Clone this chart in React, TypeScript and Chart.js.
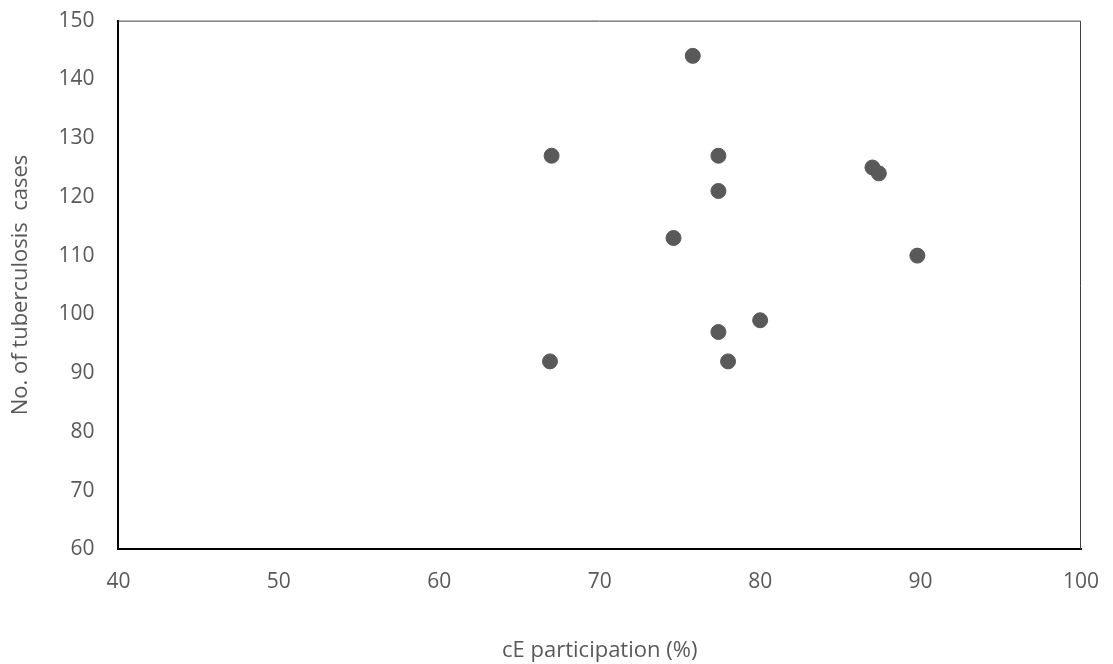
import { useEffect, useRef } from "react";
import { Chart, registerables } from "chart.js";

Chart.register(...registerables);

const participation = [75.8, 67.0, 77.4, 87.0, 87.4, 77.4, 74.6, 89.8, 80.0, 77.4, 66.9, 78.0];
const cases = [144, 127, 127, 125, 124, 121, 113, 110, 99, 97, 92, 92];

const GRAY = "#595959";

// thin frame on the top and right edges of the plot area
const framePlugin = {
  id: "frame",
  afterDraw(chart: Chart) {
    const { ctx, chartArea: a } = chart;
    ctx.save();
    ctx.strokeStyle = "#404040";
    ctx.lineWidth = 1;
    ctx.beginPath();
    ctx.moveTo(a.left, a.top + 0.5);
    ctx.lineTo(a.right - 0.5, a.top + 0.5);
    ctx.lineTo(a.right - 0.5, a.bottom);
    ctx.stroke();
    ctx.restore();
  },
};

export default function App() {
  const canvasRef = useRef<HTMLCanvasElement>(null);
  useEffect(() => {
    const canvas = canvasRef.current;
    if (!canvas) return;
    document.body.style.margin = "0";
    document.body.style.overflow = "hidden";
    const font = { family: "'Open Sans', sans-serif", size: 21 };
    const chart = new Chart(canvas, {
      type: "scatter",
      data: {
        datasets: [
          {
            data: participation.map((x, i) => ({ x, y: cases[i] })),
            backgroundColor: GRAY,
            borderColor: GRAY,
            pointRadius: 7.5,
          },
        ],
      },
      options: {
        animation: false,
        responsive: false,
        layout: { padding: { top: 0, right: 32, left: 4, bottom: 2 } },
        plugins: { legend: { display: false }, tooltip: { enabled: false } },
        scales: {
          x: {
            min: 40,
            max: 100,
            ticks: { stepSize: 10, color: GRAY, font, padding: 12 },
            grid: { display: false },
            border: { color: "#000", width: 2 },
            title: { display: true, text: "cE participation (%)", color: GRAY, font: { ...font, size: 22 }, padding: { top: 31 } },
          },
          y: {
            min: 60,
            max: 150,
            ticks: { stepSize: 10, color: GRAY, font, padding: 16 },
            grid: { display: false },
            border: { color: "#000", width: 2 },
            title: { display: true, text: "No. of tuberculosis  cases", color: GRAY, font: { ...font, size: 22 }, padding: { bottom: 8 } },
          },
        },
      },
      plugins: [framePlugin],
    });
    return () => chart.destroy();
  }, []);
  return (
    <canvas ref={canvasRef} width={1113} height={678} style={{ display: "block", marginTop: -8 }} />
  );
}
